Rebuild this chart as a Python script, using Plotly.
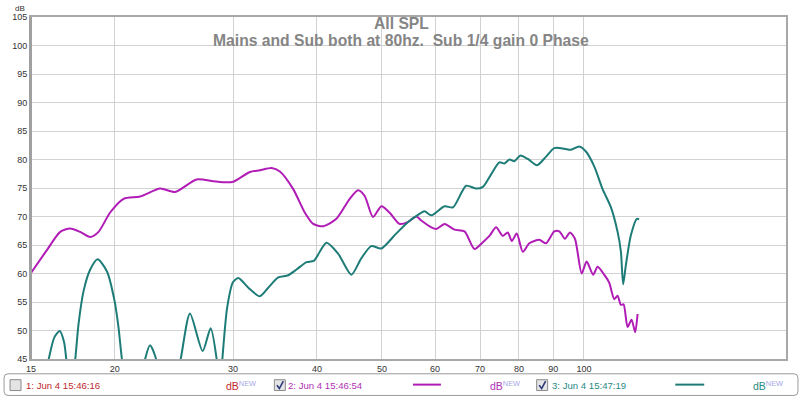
import math
import plotly.graph_objects as go

# ---------------- data ----------------
mag_freq = [15.0, 15.84, 16.58, 17.16, 17.76, 18.38, 18.91, 19.68, 20.61, 21.81, 23.36, 24.59,
            26.48, 28.04, 29.35, 30.03, 31.79, 32.89, 34.24, 35.23, 36.88, 38.37, 39.49, 40.87,
            42.77, 44.77, 46.07, 47.13, 48.50, 49.90, 51.31, 53.10, 54.64, 56.27, 57.23, 59.23,
            60.25, 61.99, 64.14, 66.38, 68.69, 70.69, 72.31, 73.98, 75.70, 77.00, 78.07, 79.41,
            81.07, 82.92, 85.80, 87.80, 90.32, 91.89, 93.70, 95.31, 96.95, 99.21, 100.92, 103.22,
            104.80, 107.19, 109.04, 110.94, 112.23, 113.50, 114.55, 116.14, 117.73, 119.20, 120.19]
mag_db = [60.1, 64.1, 67.3, 67.9, 67.3, 66.4, 67.3, 70.7, 73.1, 73.5, 74.9, 74.3,
          76.5, 76.2, 76.0, 76.1, 77.8, 78.1, 78.5, 77.9, 74.8, 70.7, 68.7, 68.3,
          69.6, 73.1, 74.6, 73.6, 69.9, 71.8, 70.7, 68.7, 69.0, 70.0, 69.3, 68.1,
          67.8, 68.7, 67.7, 67.4, 64.3, 65.5, 66.6, 68.1, 66.6, 67.2, 65.7, 67.0,
          63.8, 65.3, 65.9, 65.3, 67.4, 67.4, 66.1, 67.2, 66.1, 60.0, 62.1, 59.8,
          61.2, 59.8, 58.4, 55.5, 56.1, 54.5, 54.6, 50.6, 51.9, 49.7, 52.9]

sub_freq = [15.0, 15.5, 15.94, 16.25, 16.55, 16.8, 16.93, 17.2, 17.46, 17.66, 17.97, 18.38,
            18.85, 19.46, 19.98, 20.25, 20.49, 21.3, 22.19, 22.57, 23.04, 24.0, 25.07, 25.88,
            27.03, 27.78, 28.36, 28.65, 28.92, 29.4, 30.0, 30.55, 31.62, 32.89, 33.85, 35.03,
            36.25, 37.30, 38.60, 39.57, 41.33, 43.02, 45.03, 46.60, 48.21, 49.90, 52.50, 54.64,
            56.59, 57.88, 59.23, 61.99, 63.80, 66.76, 69.09, 70.69, 72.72, 74.81, 76.12, 77.43,
            78.78, 80.41, 82.47, 85.13, 87.80, 90.32, 93.48, 95.64, 98.39, 100.68, 103.58, 106.60,
            109.70, 112.23, 113.50, 114.39, 115.47, 117.46, 119.89, 120.83]
sub_db = [30.0, 38.0, 45.0, 48.8, 49.9, 48.0, 45.0, 39.0, 45.0, 51.2, 57.0, 60.7,
          62.5, 60.4, 55.2, 50.6, 45.0, 32.0, 45.0, 47.4, 45.0, 34.0, 45.0, 53.0,
          46.4, 50.4, 45.0, 39.0, 45.0, 54.0, 58.5, 59.2, 57.5, 56.0, 57.5, 59.3,
          59.7, 60.7, 62.0, 62.2, 65.4, 63.5, 59.8, 62.7, 64.8, 64.4, 67.0, 69.0,
          70.3, 70.9, 70.2, 71.8, 71.6, 75.4, 74.9, 75.2, 77.4, 79.5, 79.3, 80.0,
          79.7, 80.7, 80.1, 79.0, 80.5, 82.0, 81.9, 81.7, 82.3, 81.4, 78.8, 74.8,
          71.6, 67.3, 63.9, 58.1, 61.5, 66.7, 69.6, 69.5]

x_ticks = [15, 20, 30, 40, 50, 60, 70, 80, 90, 100, 200]
x_labels = ["15", "20", "30", "40", "50", "60", "70", "80", "90", "100", "200 Hz"]
y_ticks = [45, 50, 55, 60, 65, 70, 75, 80, 85, 90, 95, 100, 105]

title = "All SPL"
subtitle = "Mains and Sub both at 80hz.  Sub 1/4 gain 0 Phase"
legend_names = ["1: Jun 4 15:46:16", "2: Jun 4 15:46:54", "3: Jun 4 15:47:19"]
legend_checked = [False, True, True]

# ---------------- style ----------------
W, H = 800, 398
L, R, T, B = 29, 786, 12, 359
MAG = "#b01cb5"
TEAL = "#1d7c77"
TXT_COLORS = ["#c0282e", "#b030b4", "#2a8a85"]
FONT = "Liberation Sans, Arial, sans-serif"


def px(x):
    return (x - L) / (R - L)


def py(y):
    return (B - y) / (B - T)


fig = go.Figure()
fig.add_trace(go.Scatter(x=mag_freq, y=mag_db, mode="lines",
                         line=dict(color=MAG, width=2, shape="spline", smoothing=0.7),
                         hoverinfo="skip", showlegend=False))
fig.add_trace(go.Scatter(x=sub_freq, y=sub_db, mode="lines",
                         line=dict(color=TEAL, width=2, shape="spline", smoothing=0.7),
                         hoverinfo="skip", showlegend=False))

fig.update_layout(
    width=W, height=H,
    margin=dict(l=L, r=W - R, t=T, b=H - B, pad=0),
    paper_bgcolor="white", plot_bgcolor="white",
    font=dict(family=FONT, size=9, color="#333333"),
    xaxis=dict(type="log", range=[math.log10(15), math.log10(200)],
               tickvals=x_ticks, ticktext=x_labels, showgrid=True,
               gridcolor="#d2d2d2", gridwidth=1, zeroline=False,
               showline=True, linecolor="#a8a8a8", linewidth=2, mirror=True,
               ticks="", tickfont=dict(size=9, color="#333333"), fixedrange=True),
    yaxis=dict(range=[45, 105], tickvals=y_ticks, showgrid=True,
               gridcolor="#d2d2d2", gridwidth=1, zeroline=False,
               showline=True, linecolor="#a8a8a8", linewidth=2, mirror=True,
               ticks="", tickfont=dict(size=9, color="#333333"), fixedrange=True),
)

shapes = []
# thicker left frame edge
shapes.append(dict(type="line", xref="paper", yref="paper", x0=px(28.5), x1=px(28.5),
                   y0=0, y1=1, line=dict(color="#a0a0a0", width=3)))

# legend box (rounded)
x0, x1, y0, y1, r = 2, 798, 374, 396, 4
path = (f"M {px(x0+r)},{py(y0)} L {px(x1-r)},{py(y0)} Q {px(x1)},{py(y0)} {px(x1)},{py(y0+r)} "
        f"L {px(x1)},{py(y1-r)} Q {px(x1)},{py(y1)} {px(x1-r)},{py(y1)} "
        f"L {px(x0+r)},{py(y1)} Q {px(x0)},{py(y1)} {px(x0)},{py(y1-r)} "
        f"L {px(x0)},{py(y0+r)} Q {px(x0)},{py(y0)} {px(x0+r)},{py(y0)} Z")
shapes.append(dict(type="path", xref="paper", yref="paper", path=path,
                   line=dict(color="#9a9a9a", width=1), fillcolor="white"))

annotations = []
annotations.append(dict(text=f"<b>{title}</b>", xref="paper", yref="paper",
                        x=px(400), y=py(19), showarrow=False, xanchor="center", yanchor="middle",
                        font=dict(size=15.7, color="#858585", family=FONT)))
annotations.append(dict(text=f"<b>{subtitle}</b>", xref="paper", yref="paper",
                        x=px(400), y=py(36), showarrow=False, xanchor="center", yanchor="middle",
                        font=dict(size=15.7, color="#858585", family=FONT)))
annotations.append(dict(text="dB", xref="paper", yref="paper", x=px(18), y=py(3),
                        showarrow=False, xanchor="center", yanchor="middle",
                        font=dict(size=8, color="#333333", family=FONT)))

cb_x = [8, 273, 536]
txt_x = [22, 285, 549]
db_x = [223, 487, 751]
line_x = [None, (412, 440), (675, 704)]
line_col = [None, MAG, TEAL]
ly = 385.5
for i in range(3):
    cx = cb_x[i]
    shapes.append(dict(type="rect", xref="paper", yref="paper",
                       x0=px(cx), x1=px(cx + 11), y0=py(380), y1=py(391),
                       line=dict(color="#8a8a8a", width=1), fillcolor="#e4e4e4"))
    if legend_checked[i]:
        cp = (f"M {px(cx+2.5)},{py(385.5)} L {px(cx+5)},{py(389)} L {px(cx+9)},{py(381.5)}")
        shapes.append(dict(type="path", xref="paper", yref="paper", path=cp,
                           line=dict(color="#2a3a7a", width=1.6)))
    annotations.append(dict(text=legend_names[i], xref="paper", yref="paper",
                            x=px(txt_x[i]), y=py(ly), showarrow=False,
                            xanchor="left", yanchor="middle",
                            font=dict(size=9.6, color=TXT_COLORS[i], family=FONT)))
    annotations.append(dict(text="dB<sup><span style='color:#a8a8e8'>NEW</span></sup>",
                            xref="paper", yref="paper",
                            x=px(db_x[i]), y=py(ly), showarrow=False,
                            xanchor="left", yanchor="middle",
                            font=dict(size=10.5, color=TXT_COLORS[i], family=FONT)))
    if line_x[i]:
        a, b = line_x[i]
        shapes.append(dict(type="line", xref="paper", yref="paper",
                           x0=px(a), x1=px(b), y0=py(385), y1=py(385),
                           line=dict(color=line_col[i], width=2)))

fig.update_layout(shapes=shapes, annotations=annotations)
fig.write_html("out.html", config={"displayModeBar": False},
               post_script="document.body.style.margin='0';document.body.style.padding='0';")
